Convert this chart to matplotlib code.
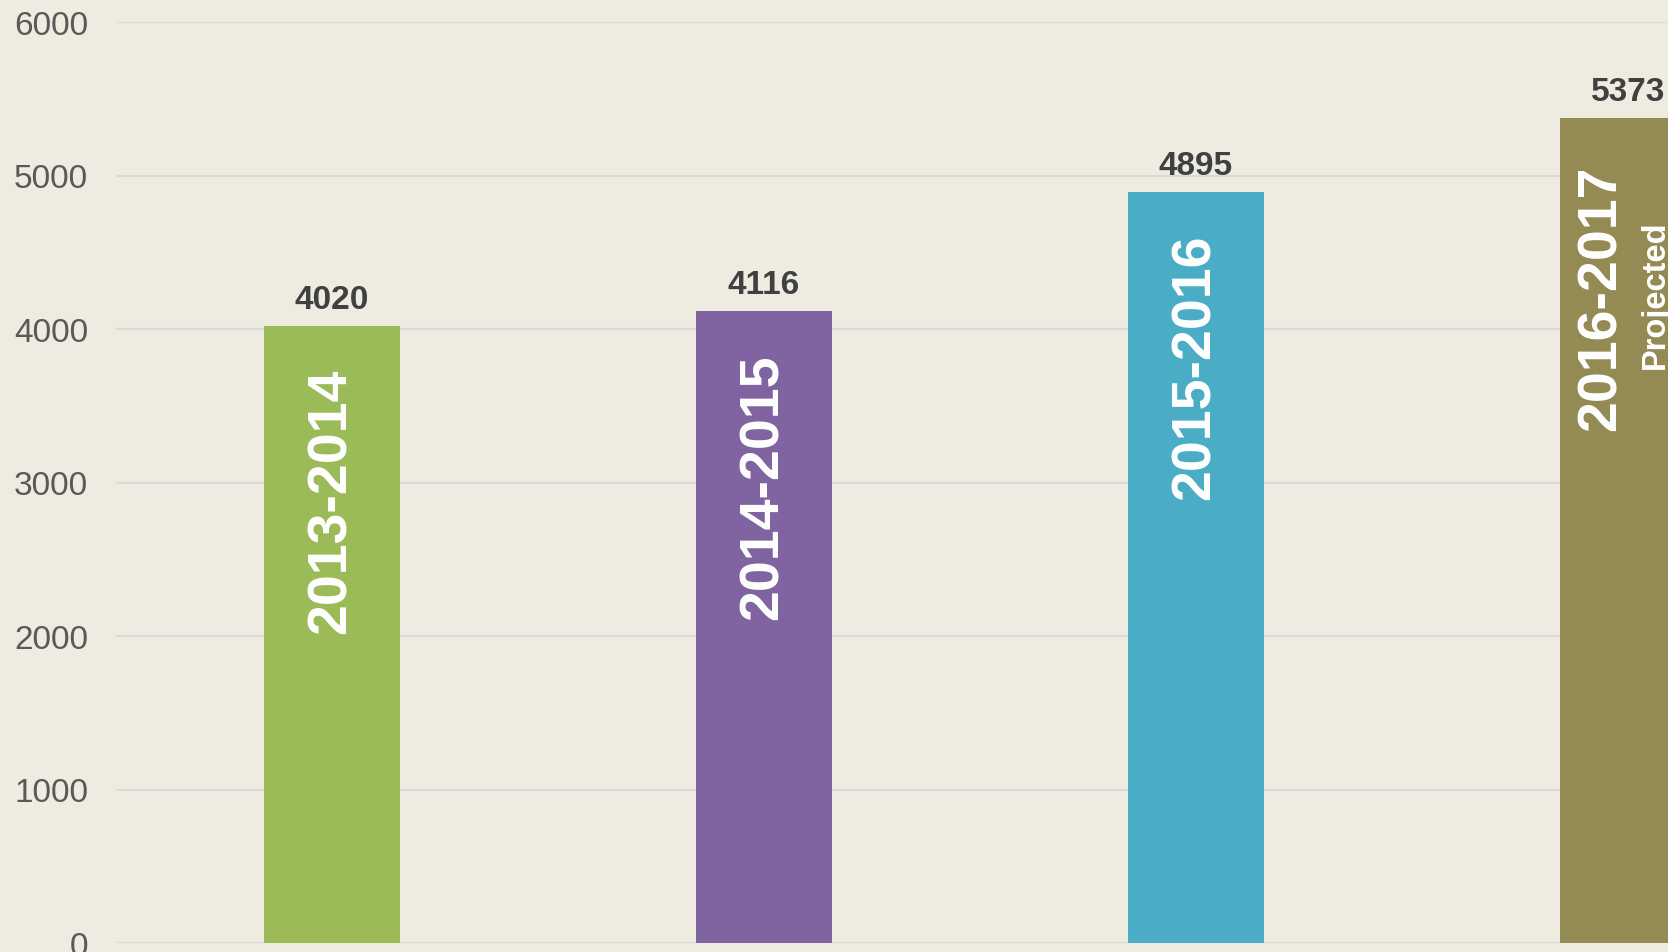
import matplotlib
matplotlib.use("Agg")
import matplotlib.pyplot as plt
from matplotlib.transforms import offset_copy

categories = ["2013-2014", "2014-2015", "2015-2016", "2016-2017\nProjected"]
values = [4020, 4116, 4895, 5373]
colors = ["#9BBB59", "#8064A2", "#4BACC6", "#948A54"]
yticks = [0, 1000, 2000, 3000, 4000, 5000, 6000]

bg = "#EEEBE0"
fig = plt.figure(figsize=(16.68, 9.53), dpi=100, facecolor=bg)
ax = fig.add_axes([116/1668, 9/953, 1 - 116/1668, (944-23)/953])
ax.set_facecolor(bg)

x = list(range(len(values)))
ax.bar(x, values, width=0.315, color=colors, zorder=3)

ax.set_ylim(0, 6000)
ax.set_xlim(-0.5, 3.093)
ax.set_yticks(yticks)
ax.set_yticklabels([str(t) for t in yticks])
ax.set_xticks([])
ax.yaxis.grid(True, color="#DADADC", linewidth=1.5, zorder=0)
ax.set_axisbelow(True)
for s in ax.spines.values():
    s.set_visible(False)
ax.tick_params(axis="y", length=0, pad=20, labelsize=24, labelcolor="#595959")
for lbl in ax.get_yticklabels():
    lbl.set_fontfamily("Liberation Sans")

for xi, v, cat in zip(x, values, categories):
    t_up = offset_copy(ax.transData, fig=fig, x=0, y=11, units="dots")
    ax.text(xi, v, str(v), transform=t_up, ha="center", va="bottom",
            fontsize=24, fontweight="bold", color="#404040",
            family="Liberation Sans", zorder=5)
    lines = cat.split("\n")
    if len(lines) == 1:
        t_dn = offset_copy(ax.transData, fig=fig, x=0, y=-42, units="dots")
        ax.text(xi, v, lines[0], transform=t_dn, rotation=90, ha="center",
                va="top", fontsize=40, fontweight="bold", color="white",
                family="Liberation Sans", zorder=5)
    else:
        t_main = offset_copy(ax.transData, fig=fig, x=-26, y=-46, units="dots")
        ax.text(xi, v, lines[0], transform=t_main, rotation=90, ha="center",
                va="top", fontsize=40, fontweight="bold", color="white",
                family="Liberation Sans", zorder=5)
        t_sub = offset_copy(ax.transData, fig=fig, x=28, y=-101, units="dots")
        ax.text(xi, v, lines[1], transform=t_sub, rotation=90, ha="center",
                va="top", fontsize=23.5, fontweight="bold", color="white",
                family="Liberation Sans", zorder=5)

fig.savefig("out.png", dpi=100, facecolor=bg)
